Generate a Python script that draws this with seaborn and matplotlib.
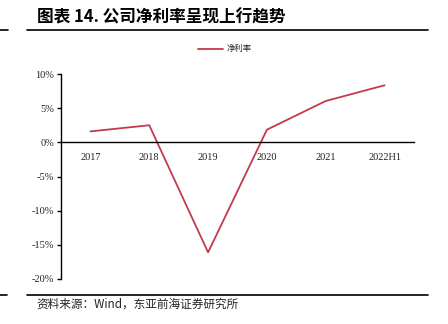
import matplotlib
matplotlib.use("Agg")
import matplotlib.pyplot as plt
import seaborn as sns
import pandas as pd
from matplotlib.lines import Line2D

categories = ["2017", "2018", "2019", "2020", "2021", "2022H1"]
net_margin = [1.6, 2.5, -16.1, 1.85, 6.05, 8.35]
y_ticks = [10, 5, 0, -5, -10, -15, -20]
y_tick_labels = ["10%", "5%", "0%", "-5%", "-10%", "-15%", "-20%"]

sns.set_theme(style="white")
plt.rcParams['font.family'] = ['Noto Sans CJK SC', 'DejaVu Sans']

df = pd.DataFrame({"period": categories, "净利率": net_margin})

fig = plt.figure(figsize=(4.48, 3.24), dpi=100)
ax = fig.add_axes([61/448, 1-279/324, (414-61)/448, (279-74)/324])
line_color = "#C23A4C"
sns.lineplot(data=df, x="period", y="净利率", ax=ax, color=line_color, linewidth=1.3, sort=False)

ax.set_ylim(-20, 10)
ax.set_xlim(-0.5, len(categories)-0.5)
ax.set_yticks(y_ticks)
ax.set_yticklabels(y_tick_labels)
ax.set_xticks(range(len(categories)))
ax.set_xticklabels(categories)
ax.set_xlabel("")
ax.set_ylabel("")
for s in ["top", "right"]:
    ax.spines[s].set_visible(False)
ax.spines["left"].set_color("black")
ax.spines["left"].set_linewidth(1.0)
ax.spines["bottom"].set_position(("data", 0))
ax.spines["bottom"].set_color("black")
ax.spines["bottom"].set_linewidth(1.0)
ax.tick_params(axis="both", labelsize=7.5, labelfontfamily="Liberation Serif", labelcolor="#222222")
ax.tick_params(axis="y", which="both", left=True, length=3, width=1, color="black", pad=2)
ax.tick_params(axis="x", which="both", bottom=False, length=0, pad=8)
ax.grid(False)

# legend
ax.legend(handles=[Line2D([0], [0], color=line_color, lw=1.3)], labels=["净利率"],
          loc="center", bbox_to_anchor=(225/448, 1-49/324), bbox_transform=fig.transFigure,
          frameon=False, fontsize=6, handlelength=3.0, handletextpad=0.5)

# title and rules
fig.text(37/448, 1-18/324, "图表 14. 公司净利率呈现上行趋势", fontsize=12, fontweight="bold",
         ha="left", va="center", color="black")
fig.add_artist(Line2D([27/448, 428/448], [1-30/324, 1-30/324], color="black", lw=1.2, transform=fig.transFigure))
fig.add_artist(Line2D([0, 8/448], [1-30/324, 1-30/324], color="black", lw=1.2, transform=fig.transFigure))
fig.add_artist(Line2D([27/448, 428/448], [1-295/324, 1-295/324], color="black", lw=1.2, transform=fig.transFigure))
fig.add_artist(Line2D([0, 7/448], [1-295/324, 1-295/324], color="black", lw=1.2, transform=fig.transFigure))
fig.text(36/448, 1-304/324, "资料来源：Wind，东亚前海证券研究所", fontsize=8.4, ha="left", va="center", color="#222222")

fig.savefig("out.png", dpi=100)
